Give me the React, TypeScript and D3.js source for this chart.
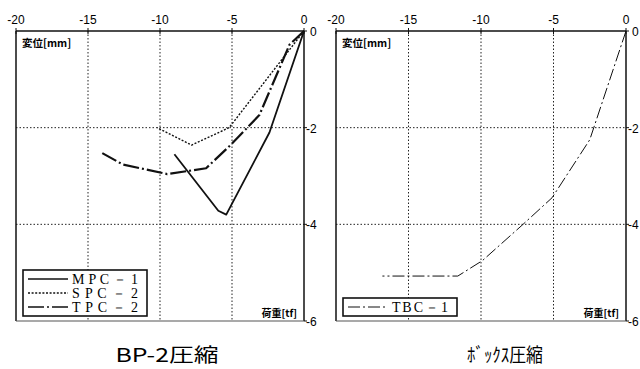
import { useEffect, useRef } from 'react'
import * as d3 from 'd3'

// load [tf] vs displacement [mm]
const xTicks = [-20, -15, -10, -5, 0]
const yTicks = [0, -2, -4, -6]

const mpc1 = [[0, 0], [-2.4, -2.1], [-5.4, -3.8], [-5.95, -3.72], [-9.0, -2.55]]
const spc2 = [[0, 0], [-5.2, -2.0], [-7.8, -2.36], [-10.2, -2.0]]
const tpc2 = [[0, 0], [-1.0, -0.28], [-3.1, -1.74], [-5.1, -2.36], [-6.8, -2.84], [-9.5, -2.96], [-12.6, -2.76], [-14.05, -2.52]]
const tbc1 = [[0, 0], [-2.5, -2.25], [-5.1, -3.45], [-7.1, -4.0], [-9.9, -4.75], [-11.6, -5.07], [-16.8, -5.07]]

const leftSeries = [
  { name: 'M P C － 1', data: mpc1, dash: null, width: 1.8 },
  { name: 'S P C － 2', data: spc2, dash: '2,1.6', width: 1.4 },
  { name: 'T P C － 2', data: tpc2, dash: '16,3,2,3', width: 2.2 },
]
const rightSeries = [
  { name: 'T B C － 1', data: tbc1, dash: '12,3,2,3', width: 1 },
]

const num = '"Liberation Sans Narrow", "Liberation Sans", Arial, sans-serif'
const jp = '"Noto Sans CJK JP", sans-serif'
const serif = '"Liberation Serif", "Times New Roman", serif'

function drawPanel(svg, x0, x1, series, legendW, legendTextW, title, titleX, titleW) {
  const y0 = 31, y1 = 321
  const x = d3.scaleLinear().domain([-20, 0]).range([x0, x1])
  const y = d3.scaleLinear().domain([0, -6]).range([y0, y1])
  const g = svg.append('g')

  // grid
  xTicks.slice(1, -1).forEach(t => {
    g.append('line').attr('x1', x(t)).attr('x2', x(t)).attr('y1', y0).attr('y2', y1)
      .attr('stroke', '#222').attr('stroke-width', 1).attr('stroke-dasharray', '1.5,2')
  })
  yTicks.slice(1, -1).forEach(t => {
    g.append('line').attr('x1', x0).attr('x2', x1).attr('y1', y(t)).attr('y2', y(t))
      .attr('stroke', '#222').attr('stroke-width', 1).attr('stroke-dasharray', '1.5,2')
  })

  // frame
  g.append('line').attr('x1', x0).attr('x2', x1).attr('y1', y0).attr('y2', y0).attr('stroke', '#111').attr('stroke-width', 1.5)
  g.append('line').attr('x1', x0).attr('x2', x0).attr('y1', y0).attr('y2', y1).attr('stroke', '#111').attr('stroke-width', 1.5)
  g.append('line').attr('x1', x1).attr('x2', x1).attr('y1', y0).attr('y2', y1).attr('stroke', '#111').attr('stroke-width', 1.5)
  g.append('line').attr('x1', x0).attr('x2', x1).attr('y1', y1).attr('y2', y1).attr('stroke', '#555').attr('stroke-width', 1.2)

  // ticks + labels
  xTicks.forEach(t => {
    g.append('line').attr('x1', x(t)).attr('x2', x(t)).attr('y1', y0 - 3).attr('y2', y0 + 3).attr('stroke', '#111')
    g.append('text').attr('x', x(t)).attr('y', 24).attr('text-anchor', 'middle')
      .attr('font-family', num).attr('font-size', 12).text(t)
  })
  yTicks.forEach(t => {
    g.append('line').attr('x1', x1).attr('x2', x1 + 3).attr('y1', y(t)).attr('y2', y(t)).attr('stroke', '#111')
    g.append('text').attr('x', t === 0 ? x1 + 6 : x1 + 2).attr('y', y(t) + 5)
      .attr('font-family', num).attr('font-size', 12).text(t)
  })

  g.append('text').attr('x', x0 + 6).attr('y', y0 + 16).attr('font-family', jp)
    .attr('font-weight', 'bold').attr('font-size', 10.5).text('変位[mm]')
  g.append('text').attr('x', x1 - 7).attr('y', y1 - 4).attr('text-anchor', 'end').attr('font-family', jp)
    .attr('font-weight', 'bold').attr('font-size', 10).text('荷重[tf]')

  const line = d3.line().x(d => x(d[0])).y(d => y(d[1]))
  series.forEach(s => {
    g.append('path').attr('d', line(s.data)).attr('fill', 'none').attr('stroke', '#111')
      .attr('stroke-width', s.width).attr('stroke-dasharray', s.dash).attr('stroke-linejoin', 'round')
  })

  // legend
  const rowH = 14
  const lh = series.length * rowH + 4
  const lx = x0 + 7, ly = y1 - 5 - lh
  g.append('rect').attr('x', lx).attr('y', ly).attr('width', legendW).attr('height', lh)
    .attr('fill', '#fff').attr('stroke', '#111').attr('stroke-width', 1.6)
  series.forEach((s, i) => {
    const cy = ly + 9 + i * rowH
    g.append('line').attr('x1', lx + 5).attr('x2', lx + 45).attr('y1', cy).attr('y2', cy)
      .attr('stroke', '#111').attr('stroke-width', Math.min(s.width, 1.6)).attr('stroke-dasharray', s.dash)
    g.append('text').attr('x', lx + 49).attr('y', cy + 5).attr('font-family', serif)
      .attr('font-size', 14).attr('textLength', legendTextW).attr('lengthAdjust', 'spacing').text(s.name)
  })

  svg.append('text').attr('x', titleX).attr('y', 362).attr('text-anchor', 'middle')
    .attr('font-family', jp).attr('font-size', 19)
    .attr('textLength', titleW).attr('lengthAdjust', 'spacingAndGlyphs').text(title)
}

export default function App() {
  const ref = useRef(null)
  useEffect(() => {
    const svg = d3.select(ref.current)
    svg.selectAll('*').remove()
    svg.append('rect').attr('width', 640).attr('height', 369).attr('fill', '#fff')
    drawPanel(svg, 16, 304, leftSeries, 124, 66, 'BP-2圧縮', 167, 103)
    drawPanel(svg, 336, 626, rightSeries, 114, 56, 'ﾎﾞｯｸｽ圧縮', 505, 76)
  }, [])
  return <svg ref={ref} width={640} height={369} style={{ position: 'absolute', left: 0, top: 0 }} />
}
